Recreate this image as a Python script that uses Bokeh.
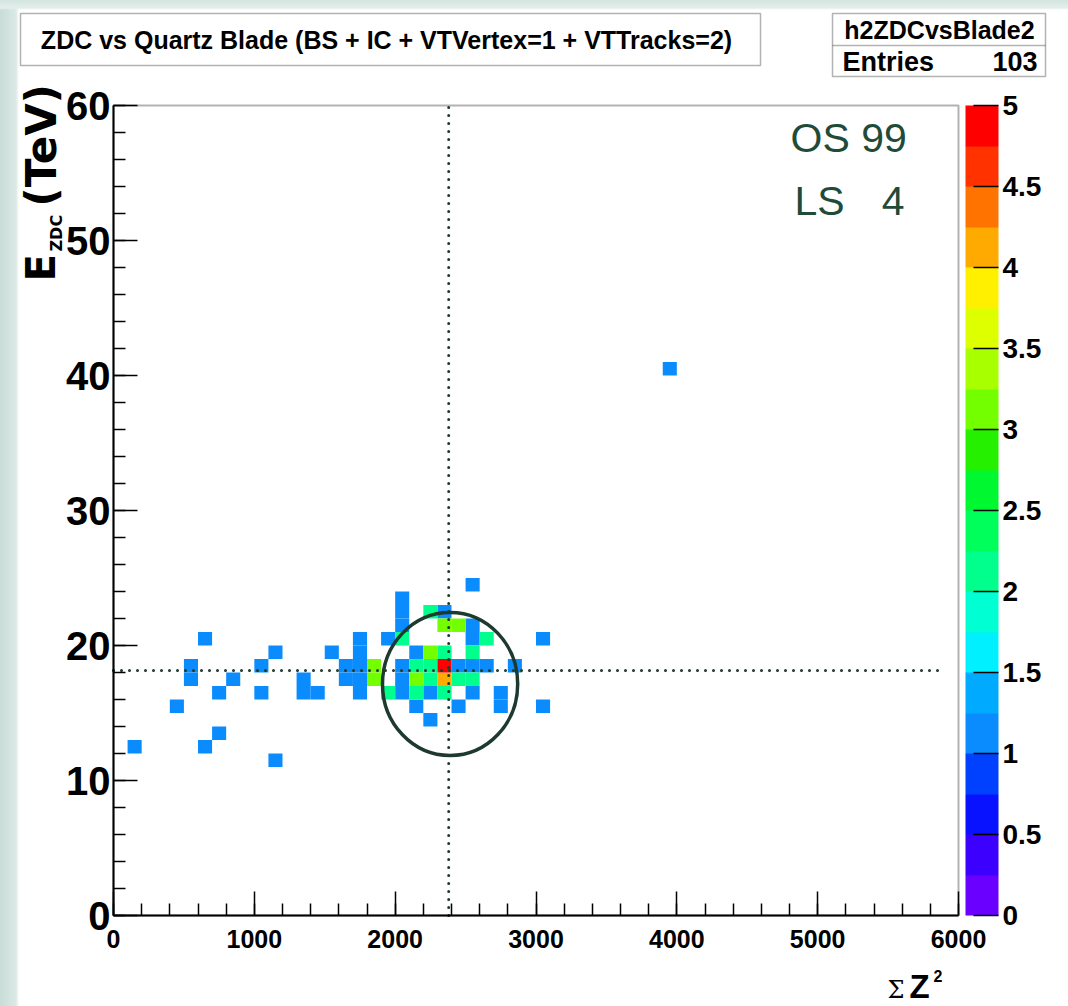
import math
from bokeh.plotting import figure
from bokeh.models import (LinearColorMapper, ColorBar, FixedTicker, Label, BoxAnnotation,
                          ColumnDataSource)
from bokeh.transform import transform
from bokeh.embed import file_html
from bokeh.resources import INLINE

# ---------------- data (bin lower edges: x bins of 100, y bins of 1 TeV) ----------------
bin_x = [100, 400, 500, 500, 600, 600, 700, 700, 800, 1000, 1000, 1100, 1100, 1300, 1300,
         1400, 1500, 1600, 1600, 1700, 1700, 1700, 1700, 1700, 1900,
         2000, 2000, 2000, 2000, 2000, 2000, 2100, 2100, 2200, 2200, 2300, 2400, 2400,
         2500, 2500, 2500, 2500, 2500, 2600, 2700, 2700, 2800, 3000, 3000, 3900,
         2000, 2200, 2300, 2500, 2600, 2100, 2200, 2200, 2400, 2500, 1900, 2100, 2300,
         1800, 1800, 2300, 2400, 2200, 2100,
         2300, 2300]
bin_y = [12, 15, 17, 18, 20, 12, 16, 13, 17, 18, 16, 19, 11, 17, 16,
         16, 19, 17, 18, 16, 17, 18, 19, 20, 20,
         21, 22, 23, 16, 17, 18, 19, 15, 16, 14, 22, 18, 15,
         24, 21, 20, 18, 16, 18, 16, 15, 18, 20, 15, 40,
         20, 22, 19, 19, 20, 18, 18, 17, 17, 17, 16, 16, 16,
         17, 18, 21, 21, 19, 17,
         17, 18]
counts = [1] * 50 + [2] * 13 + [3] * 6 + [4, 5]

BIN_W = 100
BIN_H = 1

cbar_ticks = [0, 0.5, 1, 1.5, 2, 2.5, 3, 3.5, 4, 4.5, 5]
x_ticks = [0, 1000, 2000, 3000, 4000, 5000, 6000]
y_ticks = [0, 10, 20, 30, 40, 50, 60]

cut_x = 2380      # vertical dotted line
cut_y = 18.15     # horizontal dotted line
ell_x, ell_y, ell_w, ell_h = 2390, 17.15, 960, 10.6

palette = ["#6a00ff", "#3c00ff", "#0812ff", "#0040ff", "#0a8cff", "#00aaff", "#00f0ff", "#00ffd2",
           "#00ff8c", "#00ff5a", "#00f830", "#24f000", "#74ff00", "#a8ff00", "#ddff00", "#fff000",
           "#ffaa00", "#ff7300", "#ff3200", "#ff0000"]

# ---------------- geometry ----------------
W, H = 1068, 1006
FL, FR, FT, FB = 113, 958, 105, 915   # plot-box edges in pixels
XMAX, YMAX = 6000, 60
KX = (FR - FL) / XMAX
KY = (FB - FT) / YMAX


def dx(px):
    return (px - FL) / KX


def dy(py):
    return (FB - py) / KY


p = figure(width=W, height=H, x_range=(dx(0), dx(W)), y_range=(dy(H), dy(0)),
           output_backend="svg", toolbar_location=None, min_border=0)
p.background_fill_color = None
p.border_fill_color = None
p.outline_line_color = None
p.grid.visible = False

src = ColumnDataSource(dict(
    left=bin_x, right=[v + BIN_W for v in bin_x],
    bottom=bin_y, top=[v + BIN_H for v in bin_y], c=counts))
mapper = LinearColorMapper(palette=palette, low=0, high=5)
p.quad(left="left", right="right", bottom="bottom", top="top", source=src,
       fill_color=transform("c", mapper), line_color=None)

# plot box
p.add_layout(BoxAnnotation(left=0, right=XMAX, bottom=0, top=YMAX, fill_alpha=0,
                           line_color="black", line_width=2))

# axes (drawn on the box edges)
for ax in (p.xaxis[0], p.yaxis[0]):
    ax.fixed_location = 0
    ax.major_tick_in = 24
    ax.major_tick_out = 0
    ax.minor_tick_in = 12
    ax.minor_tick_out = 0
    ax.axis_line_color = "black"
    ax.axis_line_width = 2
    ax.major_tick_line_width = 1.5
    ax.minor_tick_line_width = 1.5
    ax.major_label_text_font = "Liberation Sans"
    ax.major_label_text_font_style = "bold"
    ax.major_label_text_color = "black"
p.xaxis[0].bounds = (0, XMAX)
p.yaxis[0].bounds = (0, YMAX)
p.xaxis[0].ticker = FixedTicker(ticks=x_ticks, minor_ticks=list(range(0, 6001, 200)))
p.yaxis[0].ticker = FixedTicker(ticks=y_ticks, minor_ticks=list(range(0, 61, 2)))
p.xaxis[0].major_label_text_font_size = "25px"
p.xaxis[0].major_label_standoff = 14
p.yaxis[0].major_label_text_font_size = "40px"
p.yaxis[0].major_label_standoff = 3

# color bar
cb = ColorBar(color_mapper=mapper, ticker=FixedTicker(ticks=cbar_ticks),
              major_label_overrides={t: f"{t:g}" for t in cbar_ticks},
              width=33, height=FB - FT, padding=0, margin=0, location=(965, H - FB),
              bar_line_color=None, border_line_color=None, background_fill_color=None,
              major_tick_in=25, major_tick_out=0, major_tick_line_color="black",
              major_tick_line_width=1.5, minor_tick_line_color=None,
              major_label_text_font="Liberation Sans", major_label_text_font_style="bold",
              major_label_text_font_size="28px", major_label_text_color="black",
              label_standoff=4)
p.add_layout(cb)

# dotted cut lines
p.line(x=[cut_x, cut_x], y=[0, YMAX], line_color="#1e3a2e", line_width=3,
       line_dash="0 8", line_cap="round")
p.line(x=[0, dx(942)], y=[cut_y, cut_y], line_color="#1e3a2e", line_width=3,
       line_dash="0 8", line_cap="round")

# ellipse
p.ellipse(x=[ell_x], y=[ell_y], width=ell_w, height=ell_h, fill_color=None,
          line_color="#1e3a2e", line_width=3.5)


def txt(px, py, text, size, font="Liberation Sans", style="normal", color="black",
        align="left", angle=0.0):
    """Label whose vertical middle sits at pixel (px, py)."""
    p.add_layout(Label(x=dx(px), y=dy(py), text=text, text_font=font, text_font_style=style,
                       text_font_size=f"{size}px", text_color=color, text_align=align,
                       text_baseline="middle", angle=angle))


# OS / LS text
GREEN = "#1f4b39"
txt(790, 137, "OS 99", 41, color=GREEN)
txt(794, 200, "LS", 41, color=GREEN)
txt(904, 200, "4", 41, color=GREEN, align="right")

# title box
p.add_layout(BoxAnnotation(left=dx(20), right=dx(760), top=dy(13), bottom=dy(65),
                           fill_color="white", fill_alpha=1, line_color="black", line_width=1.5))
txt(386, 39, "ZDC vs Quartz Blade (BS + IC + VTVertex=1 + VTTracks=2)", 25, style="bold",
    align="center")

# stats box
p.add_layout(BoxAnnotation(left=dx(832), right=dx(1045), top=dy(13), bottom=dy(76),
                           fill_color="white", fill_alpha=1, line_color="black", line_width=1.5))
p.add_layout(BoxAnnotation(left=dx(832), right=dx(1045), top=dy(45), bottom=dy(45),
                           fill_alpha=0, line_color="black", line_width=1.5))
txt(939, 29, "h2ZDCvsBlade2", 25, style="bold", align="center")
txt(842, 61, "Entries", 27, style="bold")
txt(1037, 61, "103", 27, style="bold", align="right")

# y-axis title  E_ZDC (TeV)
R90 = math.pi / 2
txt(40, 281, "E", 40, font="DejaVu Sans", style="bold", angle=R90)
txt(56, 251, "ZDC", 16, font="DejaVu Sans", style="bold", angle=R90)
txt(41, 206, "(TeV)", 42, font="DejaVu Sans", style="bold", angle=R90)

# x-axis title  Σ Z²
txt(887, 989, "\u03a3", 24, font="DejaVu Serif")
txt(909, 986, "Z", 33, style="bold")
txt(933, 975, "2", 16, style="bold")

p.styles = {"background": "linear-gradient(to bottom, #d3e4e0 0px, #e4efec 8px, rgba(255,255,255,0) 10px), "
                          "linear-gradient(to right, #c8dcd8 0px, #dbe9e5 16px, #ffffff 19px)"}

open("out.html", "w").write(file_html(p, INLINE))
